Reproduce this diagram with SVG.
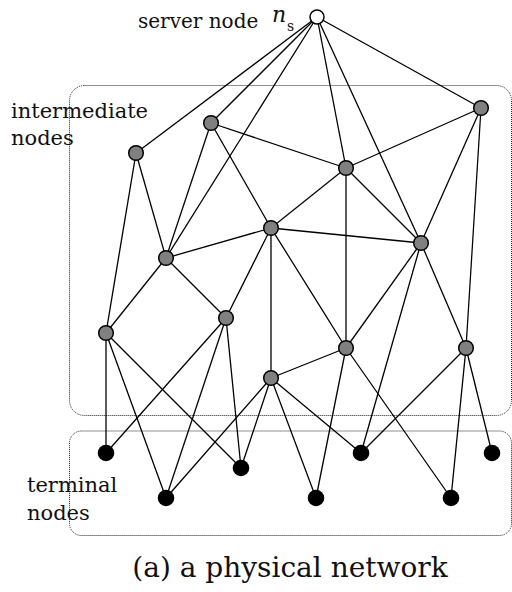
<svg xmlns="http://www.w3.org/2000/svg" width="512" height="592" viewBox="0 0 512 592">
<style>
.box{fill:none;stroke:#222;stroke-width:1;stroke-dasharray:1,1}
.e line{stroke:#000;stroke-width:1.3}
.g{fill:#808080;stroke:#000;stroke-width:1.5}
.t{fill:#000}
.s{fill:#fff;stroke:#000;stroke-width:1.5}
.lbl{font-size:21px}
</style>
<rect width="512" height="592" fill="#fff"/>
<g id="groups">
<rect class="box" x="69.5" y="85.5" width="442" height="330" rx="15"/>
<rect class="box" x="69.5" y="431" width="442" height="104.5" rx="12"/>
</g>
<g id="connectors" class="e">
<line x1="317" y1="17" x2="136" y2="153"/>
<line x1="317" y1="17" x2="211" y2="123"/>
<line x1="317" y1="17" x2="166" y2="258"/>
<line x1="317" y1="17" x2="346" y2="168"/>
<line x1="317" y1="17" x2="421" y2="243"/>
<line x1="317" y1="17" x2="481" y2="108"/>
<line x1="211" y1="123" x2="346" y2="168"/>
<line x1="346" y1="168" x2="481" y2="108"/>
<line x1="211" y1="123" x2="166" y2="258"/>
<line x1="211" y1="123" x2="271" y2="228"/>
<line x1="136" y1="153" x2="106" y2="333"/>
<line x1="136" y1="153" x2="166" y2="258"/>
<line x1="346" y1="168" x2="271" y2="228"/>
<line x1="346" y1="168" x2="346" y2="348"/>
<line x1="346" y1="168" x2="421" y2="243"/>
<line x1="481" y1="108" x2="421" y2="243"/>
<line x1="481" y1="108" x2="466" y2="348"/>
<line x1="166" y1="258" x2="271" y2="228"/>
<line x1="166" y1="258" x2="106" y2="333"/>
<line x1="166" y1="258" x2="226" y2="318"/>
<line x1="271" y1="228" x2="421" y2="243"/>
<line x1="271" y1="228" x2="226" y2="318"/>
<line x1="271" y1="228" x2="271" y2="378"/>
<line x1="271" y1="228" x2="346" y2="348"/>
<line x1="421" y1="243" x2="346" y2="348"/>
<line x1="421" y1="243" x2="466" y2="348"/>
<line x1="421" y1="243" x2="361" y2="453"/>
<line x1="346" y1="348" x2="271" y2="378"/>
<line x1="466" y1="348" x2="361" y2="453"/>
<line x1="466" y1="348" x2="451" y2="498"/>
<line x1="466" y1="348" x2="492" y2="453"/>
<line x1="346" y1="348" x2="316" y2="498"/>
<line x1="346" y1="348" x2="451" y2="498"/>
<line x1="106" y1="333" x2="106" y2="453"/>
<line x1="106" y1="333" x2="166" y2="498"/>
<line x1="106" y1="333" x2="241" y2="468"/>
<line x1="226" y1="318" x2="106" y2="453"/>
<line x1="226" y1="318" x2="166" y2="498"/>
<line x1="226" y1="318" x2="241" y2="468"/>
<line x1="271" y1="378" x2="166" y2="498"/>
<line x1="271" y1="378" x2="241" y2="468"/>
<line x1="271" y1="378" x2="316" y2="498"/>
<line x1="271" y1="378" x2="361" y2="453"/>
</g>
<g id="server"><circle class="s" cx="317" cy="17" r="7"/></g>
<g id="nA"><circle class="g" cx="136" cy="153" r="7.3"/></g>
<g id="nB"><circle class="g" cx="211" cy="123" r="7.3"/></g>
<g id="nC"><circle class="g" cx="346" cy="168" r="7.3"/></g>
<g id="nD"><circle class="g" cx="481" cy="108" r="7.3"/></g>
<g id="nE"><circle class="g" cx="166" cy="258" r="7.3"/></g>
<g id="nF"><circle class="g" cx="271" cy="228" r="7.3"/></g>
<g id="nG"><circle class="g" cx="421" cy="243" r="7.3"/></g>
<g id="nH"><circle class="g" cx="226" cy="318" r="7.3"/></g>
<g id="nI"><circle class="g" cx="106" cy="333" r="7.3"/></g>
<g id="nJ"><circle class="g" cx="346" cy="348" r="7.3"/></g>
<g id="nK"><circle class="g" cx="466" cy="348" r="7.3"/></g>
<g id="nL"><circle class="g" cx="271" cy="378" r="7.3"/></g>
<g id="t1"><circle class="t" cx="106" cy="453" r="8.3"/></g>
<g id="t2"><circle class="t" cx="166" cy="498" r="8.3"/></g>
<g id="t3"><circle class="t" cx="241" cy="468" r="8.3"/></g>
<g id="t4"><circle class="t" cx="316" cy="498" r="8.3"/></g>
<g id="t5"><circle class="t" cx="361" cy="453" r="8.3"/></g>
<g id="t6"><circle class="t" cx="451" cy="498" r="8.3"/></g>
<g id="t7"><circle class="t" cx="492" cy="453" r="8.3"/></g>
<g id="labels" fill="#111" font-family="DejaVu Serif, serif">
<text x="138" y="28" font-size="20">server node</text>
<text x="272" y="22" font-size="22" font-style="italic">n</text>
<text x="287" y="31" font-size="14">s</text>
<text class="lbl" x="11" y="118">intermediate</text>
<text class="lbl" x="11" y="145">nodes</text>
<text class="lbl" x="27" y="492">terminal</text>
<text class="lbl" x="27" y="520">nodes</text>
<text x="290" y="577" font-size="28" text-anchor="middle">(a) a physical network</text>
</g>
</svg>
